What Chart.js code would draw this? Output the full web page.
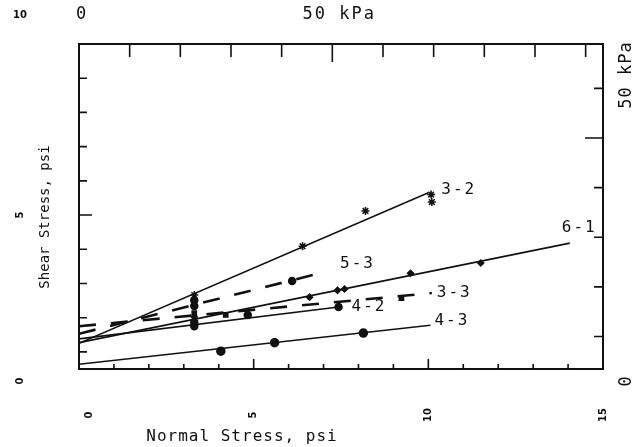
<!DOCTYPE html>
<html>
<head>
<meta charset="utf-8">
<script src="https://cdn.jsdelivr.net/npm/chart.js@4.4.1/dist/chart.umd.min.js"></script>
<style>
  html, body { margin: 0; padding: 0; background: #fff; }
  canvas { display: block; }
</style>
</head>
<body>
<canvas id="shearChart" width="639" height="447"></canvas>
<script>
const PSI_TO_KPA = 6.895;

// fitted strength lines, normal stress (psi) -> shear stress (psi)
const fit32X = [0, 10];
const fit32Y = [1.25, 5.65];
const fit53X = [0, 7.1];
const fit53Y = [1.53, 3.35];
const fit61X = [0, 14.05];
const fit61Y = [1.27, 4.18];
const fit33X = [0, 10.1];
const fit33Y = [1.75, 2.72];
const fit42X = [0, 7.43];
const fit42Y = [1.38, 2.31];
const fit43X = [0, 10.06];
const fit43Y = [0.64, 1.78];

// measured points
const pts32X = [3.3, 6.4, 8.2, 10.08, 10.1];
const pts32Y = [2.66, 4.09, 5.12, 5.6, 5.38];
const pts53X = [3.3, 3.3, 6.1];
const pts53Y = [2.51, 2.34, 3.07];
const pts61X = [3.3, 6.6, 7.4, 7.6, 9.49, 11.5];
const pts61Y = [2.02, 2.6, 2.8, 2.84, 3.3, 3.6];
const pts33X = [3.3, 4.2, 9.23];
const pts33Y = [2.13, 2.08, 2.57];
const pts42X = [3.3, 3.3, 4.83, 7.43];
const pts42Y = [1.87, 1.75, 2.08, 2.31];
const pts43X = [4.06, 5.6, 8.14];
const pts43Y = [1.02, 1.27, 1.55];

// tick labels
const bottomTickLabels = [0, 5, 10, 15];
const leftTickLabels = [0, 5, 10];
const topKpaTicks = [10, 20, 30, 40, 50, 60, 70, 80, 90, 100];
const rightKpaTicks = [10, 20, 30, 40, 50, 60];

const MONO = '"DejaVu Sans Mono", "Liberation Mono", monospace';

function toXY(xs, ys) {
  return xs.map((x, i) => ({ x: x, y: ys[i] }));
}

function fitLine(name, xs, ys, dashed, labelOffset) {
  return {
    data: toXY(xs, ys),
    showLine: true,
    pointRadius: 0,
    borderColor: '#111',
    borderWidth: dashed ? 2.6 : 1.6,
    borderDash: dashed ? [17, 15] : [],
    lineLabel: name,
    labelOffset: labelOffset
  };
}

function pointSet(xs, ys, style, radius) {
  return {
    data: toXY(xs, ys),
    showLine: false,
    pointStyle: style,
    pointRadius: radius,
    pointBorderWidth: 1.5,
    pointBackgroundColor: '#111',
    pointBorderColor: '#111'
  };
}

function rotatedText(ctx, text, x, y) {
  ctx.save();
  ctx.translate(x, y);
  ctx.rotate(-Math.PI / 2);
  ctx.fillText(text, 0, 0);
  ctx.restore();
}

const frameAndLabels = {
  id: 'frameAndLabels',
  afterDatasetsDraw(chart) {
    const ctx = chart.ctx;
    const a = chart.chartArea;
    const xs = chart.scales.x;
    const ys = chart.scales.y;
    const xk = chart.scales.xKpa;
    const yk = chart.scales.yKpa;
    ctx.save();
    ctx.strokeStyle = '#111';
    ctx.fillStyle = '#111';
    ctx.lineWidth = 2;
    ctx.strokeRect(a.left, a.top, a.right - a.left, a.bottom - a.top);

    ctx.lineWidth = 1.6;
    ctx.beginPath();
    // bottom ticks (psi)
    for (let v = 1; v < 15; v++) {
      const px = xs.getPixelForValue(v);
      const len = v % 5 === 0 ? 10 : 5;
      ctx.moveTo(px, a.bottom);
      ctx.lineTo(px, a.bottom - len);
    }
    // left ticks (psi)
    for (let v = 1; v < 10; v++) {
      const py = ys.getPixelForValue(v);
      const len = v % 5 === 0 ? 13 : 8;
      ctx.moveTo(a.left, py);
      ctx.lineTo(a.left + len, py);
    }
    // top ticks (kPa)
    topKpaTicks.forEach(v => {
      const px = xk.getPixelForValue(v);
      const len = v === 50 ? 18 : 13;
      ctx.moveTo(px, a.top);
      ctx.lineTo(px, a.top + len);
    });
    // right ticks (kPa)
    rightKpaTicks.forEach(v => {
      const py = yk.getPixelForValue(v);
      const len = v === 50 ? 18 : 9;
      ctx.moveTo(a.right, py);
      ctx.lineTo(a.right - len, py);
    });
    ctx.stroke();

    // small bold numeric tick labels
    ctx.font = 'bold 10px "DejaVu Sans", sans-serif';
    ctx.textAlign = 'center';
    ctx.textBaseline = 'middle';
    bottomTickLabels.forEach(v => {
      let px = xs.getPixelForValue(v);
      if (v === 0) px += 10;
      rotatedText(ctx, String(v), px, 415);
    });
    leftTickLabels.forEach(v => {
      if (v === 10) {
        ctx.fillText('10', 20, 15);
        return;
      }
      let py = ys.getPixelForValue(v);
      if (v === 0) py -= 5;
      rotatedText(ctx, String(v), 20, py);
    });

    // kPa labels
    ctx.font = '17px ' + MONO;
    ctx.letterSpacing = '2px';
    ctx.fillText('0', xk.getPixelForValue(0) + 3, 15);
    ctx.fillText('50 kPa', xk.getPixelForValue(50) + 7, 15);
    ctx.letterSpacing = '1px';
    rotatedText(ctx, '50 kPa', 627, 75);
    rotatedText(ctx, '0', 627, 381);

    // axis titles
    ctx.font = '16px ' + MONO;
    ctx.letterSpacing = '1px';
    ctx.fillText('Normal Stress, psi', 242, 437);
    ctx.font = '14px ' + MONO;
    ctx.letterSpacing = '0px';
    rotatedText(ctx, 'Shear Stress, psi', 45, 217);

    // line labels
    ctx.font = '16px ' + MONO;
    ctx.letterSpacing = '2px';
    ctx.textAlign = 'left';
    chart.data.datasets.forEach(ds => {
      if (!ds.lineLabel) return;
      const last = ds.data[ds.data.length - 1];
      const px = xs.getPixelForValue(last.x) + ds.labelOffset[0];
      const py = ys.getPixelForValue(last.y) + ds.labelOffset[1];
      ctx.fillText(ds.lineLabel, px, py);
    });
    ctx.restore();
  }
};

new Chart(document.getElementById('shearChart'), {
  type: 'scatter',
  data: {
    datasets: [
      fitLine('3-2', fit32X, fit32Y, false, [13, -3]),
      fitLine('5-3', fit53X, fit53Y, true, [13, -8]),
      fitLine('6-1', fit61X, fit61Y, false, [-8, -15]),
      fitLine('3-3', fit33X, fit33Y, true, [5, 0]),
      fitLine('4-2', fit42X, fit42Y, false, [13, 0]),
      fitLine('4-3', fit43X, fit43Y, false, [4, -4]),
      pointSet(pts32X, pts32Y, 'star', 4),
      pointSet(pts53X, pts53Y, 'circle', 3.5),
      pointSet(pts61X, pts61Y, 'rectRot', 3),
      pointSet(pts33X, pts33Y, 'rect', 3),
      pointSet(pts42X, pts42Y, 'circle', 3.5),
      pointSet(pts43X, pts43Y, 'circle', 4)
    ]
  },
  options: {
    responsive: false,
    animation: false,
    devicePixelRatio: 1,
    layout: { padding: { left: 79, right: 36, top: 44, bottom: 78 } },
    plugins: {
      legend: { display: false },
      tooltip: { enabled: false }
    },
    scales: {
      x: { type: 'linear', min: 0, max: 15, display: false },
      y: { type: 'linear', min: 0.5, max: 10, display: false },
      xKpa: { type: 'linear', axis: 'x', position: 'top', min: 0, max: 15 * PSI_TO_KPA, display: false },
      yKpa: { type: 'linear', axis: 'y', position: 'right', min: 0.5 * PSI_TO_KPA, max: 10 * PSI_TO_KPA, display: false }
    }
  },
  plugins: [frameAndLabels]
});
</script>
</body>
</html>
